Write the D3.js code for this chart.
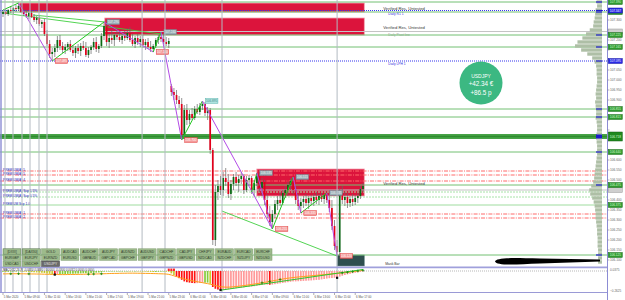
<!DOCTYPE html>
<html><head><meta charset="utf-8">
<script src="https://cdn.jsdelivr.net/npm/d3@7/dist/d3.min.js"></script>
<style>html,body{margin:0;padding:0;background:#fff;overflow:hidden}svg{display:block}text{font-family:"Liberation Sans",Arial,sans-serif}</style>
</head><body>
<svg id="chart" width="625" height="300"></svg>
<script>
// ---------------- DATA ----------------
const opens=[107.330,107.340,107.330,107.350,107.345,107.360,107.355,107.370,107.340,107.330,
107.320,107.335,107.315,107.300,107.310,107.280,107.290,107.230,107.180,107.130,
107.140,107.160,107.200,107.170,107.150,107.165,107.180,107.150,107.135,107.160,
107.145,107.170,107.160,107.125,107.150,107.165,107.190,107.155,107.170,107.220,
107.270,107.190,107.210,107.200,107.225,107.215,107.200,107.220,107.210,107.235,
107.200,107.180,107.210,107.190,107.205,107.175,107.190,107.165,107.155,107.170,
107.200,107.215,107.205,107.190,107.180,106.970,106.940,106.925,106.900,106.880,
106.725,106.850,106.800,106.830,106.810,106.855,106.840,106.870,106.880,106.835,
106.850,106.650,106.200,106.440,106.470,106.450,106.510,106.490,106.430,106.480,
106.515,106.485,106.505,106.520,106.450,106.500,106.510,106.450,106.485,106.520,
106.460,106.490,106.400,106.330,106.290,106.330,106.380,106.400,106.385,106.435,
106.450,106.475,106.495,106.450,106.400,106.370,106.390,106.405,106.385,106.410,
106.395,106.415,106.400,106.420,106.405,106.425,106.400,106.360,106.270,106.170,
106.140,106.430,106.400,106.415,106.385,106.405,106.390,106.410,106.420,106.455];
const highs=[107.350,107.360,107.355,107.370,107.365,107.375,107.385,107.380,107.355,107.350,
107.340,107.345,107.330,107.320,107.325,107.300,107.305,107.250,107.200,107.160,
107.180,107.220,107.225,107.190,107.180,107.190,107.200,107.175,107.170,107.180,
107.185,107.195,107.190,107.165,107.175,107.210,107.215,107.180,107.235,107.290,
107.280,107.230,107.250,107.235,107.250,107.240,107.230,107.245,107.260,107.265,
107.230,107.220,107.230,107.220,107.225,107.205,107.210,107.195,107.180,107.210,
107.225,107.240,107.230,107.215,107.210,106.980,106.960,106.950,106.920,106.910,
106.875,106.880,106.850,106.860,106.870,106.880,106.885,106.895,106.890,106.865,
106.860,106.660,106.475,106.500,106.520,106.540,106.560,106.530,106.500,106.530,
106.540,106.525,106.540,106.530,106.520,106.525,106.520,106.500,106.535,106.530,
106.510,106.500,106.430,106.370,106.350,106.400,106.420,106.440,106.450,106.470,
106.490,106.510,106.515,106.470,106.430,106.410,106.420,106.430,106.420,106.425,
106.430,106.440,106.430,106.435,106.430,106.435,106.420,106.400,106.300,106.200,
106.460,106.470,106.440,106.435,106.420,106.430,106.425,106.435,106.470,106.485];
const lows=[107.315,107.325,107.320,107.335,107.330,107.340,107.345,107.335,107.320,107.310,
107.305,107.310,107.290,107.280,107.270,107.260,107.220,107.170,107.110,107.095,
107.115,107.140,107.150,107.135,107.130,107.145,107.140,107.120,107.110,107.130,
107.120,107.150,107.115,107.110,107.130,107.150,107.140,107.135,107.160,107.200,
107.170,107.160,107.180,107.170,107.200,107.190,107.180,107.195,107.200,107.190,
107.170,107.160,107.175,107.165,107.160,107.150,107.155,107.140,107.140,107.160,
107.180,107.190,107.180,107.170,107.160,106.920,106.900,106.880,106.860,106.700,
106.705,106.775,106.780,106.800,106.800,106.830,106.825,106.850,106.820,106.800,
106.630,106.175,106.170,106.400,106.425,106.420,106.470,106.410,106.400,106.450,
106.470,106.440,106.480,106.430,106.440,106.470,106.430,106.420,106.470,106.440,
106.420,106.375,106.310,106.270,106.255,106.310,106.350,106.370,106.375,106.410,
106.420,106.450,106.430,106.380,106.350,106.335,106.360,106.370,106.355,106.375,
106.370,106.380,106.375,106.390,106.380,106.385,106.340,106.250,106.150,106.120,
106.125,106.380,106.370,106.360,106.365,106.370,106.375,106.385,106.405,106.440];
const closes=[107.340,107.330,107.350,107.345,107.360,107.355,107.370,107.340,107.330,107.320,
107.335,107.315,107.300,107.310,107.280,107.290,107.230,107.180,107.130,107.140,
107.160,107.200,107.170,107.150,107.165,107.180,107.150,107.135,107.160,107.145,
107.170,107.160,107.125,107.150,107.165,107.190,107.155,107.170,107.220,107.270,
107.190,107.210,107.200,107.225,107.215,107.200,107.220,107.210,107.235,107.200,
107.180,107.210,107.190,107.205,107.175,107.190,107.165,107.155,107.170,107.200,
107.215,107.205,107.190,107.180,107.195,106.940,106.925,106.900,106.880,106.725,
106.850,106.800,106.830,106.810,106.855,106.840,106.870,106.880,106.835,106.850,
106.650,106.200,106.440,106.470,106.450,106.510,106.490,106.430,106.480,106.515,
106.485,106.505,106.520,106.450,106.500,106.510,106.450,106.485,106.520,106.460,
106.490,106.400,106.330,106.290,106.330,106.380,106.400,106.385,106.435,106.450,
106.475,106.495,106.450,106.400,106.370,106.390,106.405,106.385,106.410,106.395,
106.415,106.400,106.420,106.405,106.425,106.400,106.360,106.270,106.170,106.140,
106.430,106.400,106.415,106.385,106.405,106.390,106.410,106.420,106.455,106.470];

const macdHist=[-0.010,-0.012,-0.010,-0.008,-0.006,-0.005,-0.004,-0.006,-0.008,-0.010,
-0.012,-0.014,-0.016,-0.018,-0.020,-0.022,-0.025,-0.030,-0.035,-0.040,
-0.045,-0.045,-0.042,-0.040,-0.038,-0.036,-0.035,-0.034,-0.033,-0.032,
-0.030,-0.028,-0.028,-0.027,-0.025,-0.022,-0.020,-0.018,-0.014,-0.008,
-0.006,-0.006,-0.005,-0.004,-0.004,-0.003,-0.003,-0.002,-0.002,-0.003,
-0.004,-0.004,-0.005,-0.006,-0.007,-0.008,-0.010,-0.012,-0.013,-0.012,
-0.010,-0.008,-0.006,-0.008,-0.010,-0.030,-0.050,-0.070,-0.090,-0.110,
-0.130,-0.140,-0.145,-0.150,-0.152,-0.152,-0.150,-0.148,-0.146,-0.145,
-0.160,-0.200,-0.222,-0.232,-0.238,-0.236,-0.232,-0.228,-0.224,-0.220,
-0.215,-0.210,-0.208,-0.205,-0.200,-0.198,-0.195,-0.190,-0.185,-0.180,
-0.175,-0.170,-0.170,-0.172,-0.170,-0.165,-0.160,-0.155,-0.150,-0.145,
-0.140,-0.135,-0.130,-0.130,-0.128,-0.126,-0.124,-0.122,-0.120,-0.118,
-0.115,-0.112,-0.110,-0.105,-0.100,-0.095,-0.090,-0.088,-0.085,-0.085,
-0.070,-0.060,-0.050,-0.042,-0.035,-0.028,-0.022,-0.016,-0.010,-0.005];
const macdSignal=[-0.036,-0.036,-0.035,-0.035,-0.034,-0.034,-0.034,-0.035,-0.035,-0.036,
-0.036,-0.037,-0.037,-0.038,-0.038,-0.039,-0.040,-0.041,-0.042,-0.043,
-0.044,-0.044,-0.045,-0.045,-0.045,-0.044,-0.044,-0.043,-0.043,-0.042,
-0.042,-0.041,-0.040,-0.040,-0.039,-0.038,-0.037,-0.036,-0.035,-0.034,
-0.033,-0.032,-0.031,-0.030,-0.030,-0.029,-0.028,-0.028,-0.027,-0.027,
-0.027,-0.027,-0.028,-0.028,-0.029,-0.030,-0.030,-0.031,-0.032,-0.033,
-0.034,-0.035,-0.036,-0.038,-0.042,-0.050,-0.060,-0.070,-0.080,-0.090,
-0.100,-0.108,-0.115,-0.122,-0.128,-0.134,-0.140,-0.146,-0.152,-0.158,
-0.165,-0.173,-0.182,-0.190,-0.196,-0.200,-0.202,-0.202,-0.200,-0.197,
-0.194,-0.190,-0.186,-0.182,-0.178,-0.173,-0.168,-0.163,-0.158,-0.153,
-0.148,-0.142,-0.136,-0.130,-0.124,-0.118,-0.112,-0.106,-0.100,-0.095,
-0.090,-0.086,-0.082,-0.078,-0.075,-0.072,-0.069,-0.066,-0.063,-0.060,
-0.057,-0.054,-0.051,-0.048,-0.045,-0.042,-0.039,-0.036,-0.033,-0.030,
-0.027,-0.024,-0.020,-0.016,-0.012,-0.008,-0.004,0.000,0.004,0.008];
const macdDots=[20,84,129];
const macdCrosses=[3,6,10,33,35,38,100,103,107,131,133,135,137,139];
const macdAlerts=[64,65,66];
const macdDivergence=[[84,-0.240],[139,0.019]];
const indicatorTicks=[0.0375,-0.2625];
const indicatorTitle="MACD(12,26,9) -0.0050 0.0080 | 0.0000 -0.0300 0.0032 0.0000 0.0000";

const priceTicks=[107.35,107.30,107.25,107.20,107.15,107.10,107.05,107.00,106.95,106.90,106.85,106.80,106.75,106.70,106.65,106.60,106.55,106.50,106.45,106.40,106.35,106.30,106.25,106.20,106.15,106.10];
const timeIdx=[0,8,16,24,32,40,48,56,64,72,80,88,96,104,112,120,128,136];
const timeLabels=["5 Mar 2020","5 Mar 09:00","5 Mar 11:00","5 Mar 13:00","5 Mar 15:00","5 Mar 17:00","5 Mar 19:00","5 Mar 21:00","5 Mar 23:00","6 Mar 01:00","6 Mar 03:00","6 Mar 05:00","6 Mar 07:00","6 Mar 09:00","6 Mar 11:00","6 Mar 13:00","6 Mar 15:00","6 Mar 17:00"];

const levelPrices=[107.390,107.3475,107.340,107.2425,107.225,107.165,107.095,106.855,106.815,106.7175,106.640,106.545,106.525,106.495,106.475,106.450,106.440,106.415,106.375,106.330,106.310,106.125];
const levelKinds=["res","daily","res","pivot","res","res","daily","res","res","band","res","prem","prem","prem","res","pivot","soft","soft","res2","prem","prem","res"];
const levelRightText=["","Daily R1 1","","Daily Pivot line","","","Daily LPH 1","","","","","","","","","","","","","","",""];
const levelLeftText=["","","","","","","","","","","","PREMIUM(A) 5","PREMIUM(A) 5","PREMIUM(A) 4","","","PREMIUM(A) Sup 1.5%","PREMIUM(A) Sup 0.5%","PREMIUM Sup 1.0","PREMIUM(A) 1","PREMIUM(A) 2",""];

const zoneStart=[6.5,39.3,98];
const zoneEnd=[139.5,139.5,139.5];
const zoneTop=[107.385,107.310,106.555];
const zoneBottom=[107.340,107.225,106.420];
const zoneText=["Verified Res, Untested","Verified Res, Untested","Verified Res, Untested"];
const maskBox={i0:129,i1:139.5,top:106.125,bottom:106.070,text:"Mask Bar"};

const vLines=[0.77,3.86,7.34,10.43,13.9,17,53.7,62.55,84.56,129];

const zigzag=[
 {a:0,pa:107.350,b:6,pb:107.385},{a:6,pa:107.385,b:19,pb:107.095},
 {a:19,pa:107.095,b:39,pb:107.290},{a:39,pa:107.290,b:58,pb:107.140},
 {a:58,pa:107.140,b:61,pb:107.240},{a:61,pa:107.240,b:69,pb:106.700},
 {a:69,pa:106.700,b:77,pb:106.895},{a:77,pa:106.895,b:104,pb:106.255},
 {a:96,pa:106.440,b:98,pb:106.535},{a:98,pa:106.535,b:104,pb:106.255},
 {a:104,pa:106.255,b:112,pb:106.515},{a:112,pa:106.515,b:115,pb:106.335},
 {a:115,pa:106.335,b:125,pb:106.435},{a:125,pa:106.435,b:129,pb:106.120}];
const trendLines=[
 {a:0,pa:107.335,b:61,pb:107.230},
 {a:11.5,pa:107.325,b:39.5,pb:107.290},
 {a:84.5,pa:106.345,b:129,pb:106.120}];
const pivotIdx=[19,39,58,61,69,77,98,104,112,115,125,129];
const pivotPrice=[107.095,107.290,107.140,107.240,106.700,106.895,106.535,106.255,106.515,106.335,106.435,106.120];
const pivotType=["low","high","low","high","low","last","high","low","high","low","high","low"];

const volProfile=[22,20,26,28,30,34,36,50,65,80,100,110,85,60,40,30,
 24,22,22,20,20,22,24,26,24,
 28,26,24,24,26,22,20,20,22,24,22,20,20,
 20,22,24,26,28,30,32,
 36,44,52,48,40,34,30,28,26,
 26,24,22,20,20,18,18,18,16,16,16,16];
const volBinTop=107.40, volBinStep=0.02;

const buttonRows=[
 ["[DXIII]","[DAX30]","GOLD","AUDCAD","AUDCHF","AUDJPY","AUDNZD","AUDUSD","CADCHF","CADJPY","CHFJPY","EURAUD","EURCAD","EURCHF"],
 ["EURGBP","EURJPY","EURNZD","EURUSD","GBPAUD","GBPCAD","GBPCHF","GBPJPY","GBPNZD","GBPUSD","NZDCAD","NZDCHF","NZDJPY","NZDUSD"],
 ["USDCAD","USDCHF","USDJPY"]];
const activeSymbol="USDJPY";
const badgeTexts=["USDJPY","+42.34 €","+86.5 p"];

// ---------------- DRAW ----------------
const W=625,H=300,plotR=607,mainB=267,indT=268,indB=292;
const svg=d3.select("#chart");
const x=d3.scaleLinear().domain([0,139]).range([3,363]);
const y=d3.scaleLinear().domain([106.065,107.4]).range([267,0]);
const yi=d3.scaleLinear().domain([-0.2625,0.0375]).range([292,268]);
const f3=d3.format(".3f");

svg.append("rect").attr("width",W).attr("height",H).attr("fill","#fff");
const defs=svg.append("defs");
defs.append("clipPath").attr("id","cm").append("rect").attr("x",0).attr("y",0).attr("width",plotR).attr("height",mainB);
defs.append("clipPath").attr("id","ci").append("rect").attr("x",0).attr("y",indT).attr("width",plotR).attr("height",indB-indT);
const main=svg.append("g").attr("clip-path","url(#cm)");

// zones
zoneStart.forEach((s,k)=>{
  main.append("rect").attr("x",x(s)).attr("y",y(zoneTop[k]))
    .attr("width",x(zoneEnd[k])-x(s)).attr("height",y(zoneBottom[k])-y(zoneTop[k]))
    .attr("fill","#dc143c").attr("stroke","#f4a3b2").attr("stroke-width",0.8);
});
main.append("rect").attr("x",x(maskBox.i0)).attr("y",y(maskBox.top))
  .attr("width",x(maskBox.i1)-x(maskBox.i0)).attr("height",y(maskBox.bottom)-y(maskBox.top))
  .attr("fill","#2f4f4f").attr("stroke","#6a8a8a").attr("stroke-width",0.6);

// vertical lines
vLines.forEach(v=>{
  svg.append("line").attr("x1",x(v)).attr("x2",x(v)).attr("y1",0).attr("y2",indB)
    .attr("stroke","#b3bac2").attr("stroke-width",1);
});

// levels
const lvlStyle={
  res:{c:"#72c072",w:1,d:null},
  res2:{c:"#9fdc9f",w:1,d:null},
  daily:{c:"#3535ee",w:1,d:"1,1"},
  pivot:{c:"#c4c4c4",w:1,d:null},
  band:{c:"#47a347",w:5,d:null},
  prem:{c:"#ff6b6b",w:1,d:"4,1.2,1,1.2"},
  soft:{c:"#a8e2a8",w:1,d:"2,1"}
};
levelPrices.forEach((p,k)=>{
  const s=lvlStyle[levelKinds[k]];
  const l=main.append("line").attr("x1",0).attr("x2",plotR).attr("y1",y(p)).attr("y2",y(p))
    .attr("stroke",s.c).attr("stroke-width",s.w);
  if(s.d) l.attr("stroke-dasharray",s.d);
  if(levelKinds[k]==="band"){
    main.append("line").attr("x1",0).attr("x2",plotR).attr("y1",y(p)).attr("y2",y(p))
      .attr("stroke","#2e8c2e").attr("stroke-width",1.6);
  }
  if(levelRightText[k]){
    main.append("text").attr("x",x(139.5)+24).attr("y",y(p)+4).text(levelRightText[k])
      .attr("font-size",3.3).attr("fill",levelKinds[k]==="daily"?"#3030e0":"#999");
  }
  if(levelLeftText[k]){
    main.append("text").attr("x",3).attr("y",y(p)-0.4).text(levelLeftText[k])
      .attr("font-size",3.2).attr("fill","#2424b8");
  }
});

// zone texts
zoneStart.forEach((s,k)=>{
  main.append("text").attr("x",x(zoneEnd[k])+19).attr("y",(y(zoneTop[k])+y(zoneBottom[k]))/2+2.5)
    .text(zoneText[k]).attr("font-size",4.2).attr("fill","#3a3a3a");
});
main.append("text").attr("x",x(maskBox.i1)+21).attr("y",y(maskBox.top)+9.5).text(maskBox.text)
  .attr("font-size",3.4).attr("fill","#333");

// trend lines
trendLines.forEach(t=>{
  main.append("line").attr("x1",x(t.a)).attr("y1",y(t.pa)).attr("x2",x(t.b)).attr("y2",y(t.pb))
    .attr("stroke","#3fcf3f").attr("stroke-width",0.9);
});

// candles
const cw=1.7;
const cg=main.append("g");
opens.forEach((o,i)=>{
  const c=closes[i],bull=c>=o;
  cg.append("line").attr("x1",x(i)).attr("x2",x(i)).attr("y1",y(highs[i])).attr("y2",y(lows[i]))
    .attr("stroke","#666").attr("stroke-width",0.7);
  const t=y(Math.max(o,c)),b=y(Math.min(o,c));
  cg.append("rect").attr("x",x(i)-cw/2).attr("y",t).attr("width",cw).attr("height",Math.max(0.7,b-t))
    .attr("fill",bull?"#0a6a14":"#e3001b");
});

// zigzag
zigzag.forEach(z=>{
  const up=z.pb>z.pa;
  main.append("line").attr("x1",x(z.a)).attr("y1",y(z.pa)).attr("x2",x(z.b)).attr("y2",y(z.pb))
    .attr("stroke",up?"#22c822":"#b24be6").attr("stroke-width",1);
});

// pivot labels
const pStyle={low:{f:"#f49a9a",s:"#e23b3b",t:"#fff"},high:{f:"#97aeb6",s:"#6e8a94",t:"#f4f4f4"},last:{f:"#aee3e0",s:"#58b3ae",t:"#4c8c88"}};
pivotIdx.forEach((i,k)=>{
  const st=pStyle[pivotType[k]];
  const g=main.append("g").attr("transform",`translate(${x(i)+3},${y(pivotPrice[k])-2.4})`);
  g.append("rect").attr("width",12.5).attr("height",4.8).attr("fill",st.f).attr("stroke",st.s).attr("stroke-width",0.5);
  g.append("text").attr("x",6.25).attr("y",3.6).attr("text-anchor","middle").text(f3(pivotPrice[k]))
    .attr("font-size",3.1).attr("fill",st.t);
});

// volume profile
const vp=d3.scaleLinear().domain([0,110]).range([0,27]);
const vpRight=602;
volProfile.forEach((v,k)=>{
  const top=volBinTop-k*volBinStep;
  svg.append("rect").attr("x",vpRight-vp(v)).attr("y",y(top)+0.3).attr("width",vp(v))
    .attr("height",y(top-volBinStep)-y(top)-0.6).attr("fill","#aebfa6");
});
levelPrices.forEach((p,k)=>{
  const kd=levelKinds[k];
  if(kd==="res"||kd==="daily"||kd==="band"){
    svg.append("line").attr("x1",vpRight-6).attr("x2",vpRight).attr("y1",y(p)).attr("y2",y(p))
      .attr("stroke","#1c1cc8").attr("stroke-width",kd==="band"?4:1.2);
  }
});

// redaction scribble
svg.append("path").attr("d","M495,261.5 C496,257.5 510,257.8 540,258.6 L600,259.6 L600,261.4 L540,263.6 C512,264.8 497,265.6 495,261.5 Z")
  .attr("fill","#000");

// frame
svg.append("line").attr("x1",1).attr("x2",1).attr("y1",0).attr("y2",indB).attr("stroke","#8c8cd4").attr("stroke-width",1.4);
svg.append("line").attr("x1",0).attr("x2",plotR).attr("y1",267.3).attr("y2",267.3).attr("stroke","#a0a0dc").attr("stroke-width",1.8);
svg.append("line").attr("x1",0).attr("x2",plotR).attr("y1",292.5).attr("y2",292.5).attr("stroke","#9a9ad6").attr("stroke-width",1);
svg.append("line").attr("x1",607.5).attr("x2",607.5).attr("y1",0).attr("y2",H).attr("stroke","#8c8cd4").attr("stroke-width",1);

// price axis: level boxes (hide texts covered by higher-priority boxes) and ticks
const boxStyle={res:{f:"#2f9a2f",s:"#1b6b1b",t:"#dcffdc",h:5,p:1},res2:{f:"#2f9a2f",s:"#1b6b1b",t:"#dcffdc",h:5,p:1},
  daily:{f:"#2a2ae6",s:"#1414a0",t:"#fff",h:5,p:3},pivot:{f:"#cfcfcf",s:"#999",t:"#555",h:5,p:0},band:{f:"#1f8a1f",s:"#115a11",t:"#dcffdc",h:9,p:2}};
const boxes=levelPrices.map((p,k)=>({p,st:boxStyle[levelKinds[k]]})).filter(b=>b.st)
  .sort((a,b)=>a.st.p-b.st.p);
priceTicks.forEach(p=>{
  svg.append("line").attr("x1",607.5).attr("x2",609.5).attr("y1",y(p)).attr("y2",y(p)).attr("stroke","#888").attr("stroke-width",0.6);
  const covered=boxes.some(b=>Math.abs(y(b.p)-y(p))<(b.st.h/2+2.2));
  if(!covered) svg.append("text").attr("x",610).attr("y",y(p)+1.2).text(f3(p)).attr("font-size",3.2).attr("fill","#666");
});
boxes.forEach((b,k)=>{
  const st=b.st;
  svg.append("rect").attr("x",608.3).attr("y",y(b.p)-st.h/2).attr("width",14).attr("height",st.h)
    .attr("fill",st.f).attr("stroke",st.s).attr("stroke-width",0.5);
  const hidden=boxes.some((o,j)=>j>k&&Math.abs(y(o.p)-y(b.p))<(o.st.h+st.h)/2);
  if(!hidden) svg.append("text").attr("x",615.3).attr("y",y(b.p)+1.2).attr("text-anchor","middle").text(f3(b.p))
    .attr("font-size",3.1).attr("fill",st.t);
});

// indicator
const ind=svg.append("g").attr("clip-path","url(#ci)");
ind.append("line").attr("x1",0).attr("x2",plotR).attr("y1",yi(0)).attr("y2",yi(0))
  .attr("stroke","#999").attr("stroke-width",0.7).attr("stroke-dasharray","1,1");
macdHist.forEach((v,i)=>{
  const prev=i?macdHist[i-1]:v, rising=v>=prev, above=v>macdSignal[i];
  const col=above?(rising?"#86cc3c":"#c8cc30"):(rising?"#ff9a9a":"#ff1010");
  const t=Math.min(yi(0),yi(v)),b=Math.max(yi(0),yi(v));
  ind.append("rect").attr("x",x(i)-cw/2).attr("y",t).attr("width",cw).attr("height",Math.max(0.5,b-t)).attr("fill",col);
});
ind.append("path").datum(macdSignal).attr("fill","none").attr("stroke","#ff9f1a").attr("stroke-width",1)
  .attr("d",d3.line().x((d,i)=>x(i)).y(d=>yi(d)));
ind.append("line").attr("x1",x(macdDivergence[0][0])).attr("y1",yi(macdDivergence[0][1]))
  .attr("x2",x(macdDivergence[1][0])).attr("y2",yi(macdDivergence[1][1])).attr("stroke","#2ec82e").attr("stroke-width",1);
macdCrosses.forEach(i=>{
  const cx=x(i),cy=yi(macdSignal[i]);
  ind.append("path").attr("d",`M${cx-1.3},${cy}H${cx+1.3}M${cx},${cy-1.3}V${cy+1.3}`).attr("stroke","#118a11").attr("stroke-width",0.8);
});
macdAlerts.forEach(i=>{
  ind.append("rect").attr("x",x(i)-1).attr("y",yi(0.03)).attr("width",2).attr("height",2.4).attr("fill","#ff2020");
});
macdDots.forEach(i=>{
  ind.append("rect").attr("x",x(i)-1.1).attr("y",yi(macdHist[i])-1.1).attr("width",2.2).attr("height",2.2).attr("fill","#111");
});
svg.append("text").attr("x",3).attr("y",271.2).text(indicatorTitle).attr("font-size",2.9).attr("fill","#444");
indicatorTicks.forEach(v=>{
  svg.append("text").attr("x",610).attr("y",yi(v)+(v>0?2.6:-0.3)).text(d3.format(".4f")(v)).attr("font-size",3.1).attr("fill","#666");
});

// time axis
timeIdx.forEach((ti,k)=>{
  svg.append("line").attr("x1",x(ti)).attr("x2",x(ti)).attr("y1",293).attr("y2",295).attr("stroke","#777").attr("stroke-width",0.6);
  svg.append("text").attr("x",x(ti)+0.8).attr("y",298.2).text(timeLabels[k]).attr("font-size",2.9).attr("fill","#555");
});

// buttons
const bx=d3.scaleBand().domain(d3.range(14)).range([3,272]).paddingInner(0.07);
buttonRows.forEach((row,r)=>{
  const by=248.8+r*6.1;
  row.forEach((name,c)=>{
    const act=name===activeSymbol;
    svg.append("rect").attr("x",bx(c)).attr("y",by).attr("width",bx.bandwidth()).attr("height",5.4)
      .attr("fill",act?"#6a6a6a":"#9dbb8c").attr("stroke",act?"#444":(name[0]==="["?"#4f6f45":"#7d9a6d")).attr("stroke-width",0.5);
    svg.append("text").attr("x",bx(c)+bx.bandwidth()/2).attr("y",by+3.9).attr("text-anchor","middle").text(name)
      .attr("font-size",3.3).attr("fill",act?"#e6e6e6":"#2e3a2a");
  });
});

// profit badge
const badge=svg.append("g").attr("transform","translate(481,83)");
badge.append("circle").attr("r",21.5).attr("fill","#3cb882");
badge.append("text").attr("y",-5).attr("text-anchor","middle").text(badgeTexts[0]).attr("font-size",5).attr("fill","#fff");
badge.append("text").attr("y",3.2).attr("text-anchor","middle").text(badgeTexts[1]).attr("font-size",6.3).attr("fill","#fff");
badge.append("text").attr("y",11.6).attr("text-anchor","middle").text(badgeTexts[2]).attr("font-size",6.3).attr("fill","#fff");
</script>
</body></html>
